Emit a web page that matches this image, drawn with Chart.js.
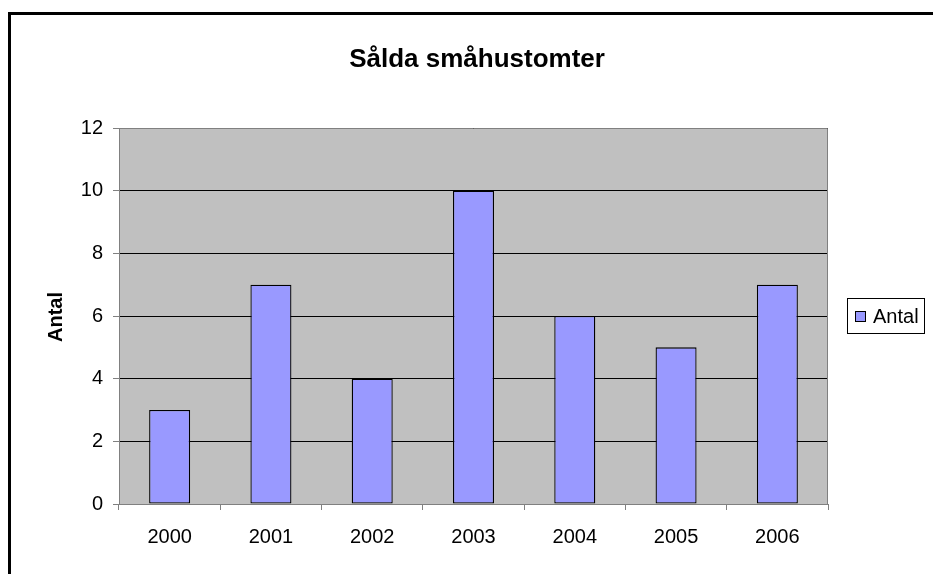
<!DOCTYPE html>
<html>
<head>
<meta charset="utf-8">
<script src="https://cdn.jsdelivr.net/npm/chart.js@4/dist/chart.umd.min.js"></script>
<style>
html,body{margin:0;padding:0;background:#fff;}
canvas{display:block;}
</style>
</head>
<body>
<canvas id="c" width="933" height="574"></canvas>
<script>
const categories = ['2000','2001','2002','2003','2004','2005','2006'];
const antal = [3, 7, 4, 10, 6, 5, 7];
const seriesName = 'Antal';
const chartTitle = 'Sålda småhustomter';
const yAxisTitle = 'Antal';
const yTicks = [0, 2, 4, 6, 8, 10, 12];

const FONT = '"Liberation Sans", Arial, sans-serif';

const decor = {
  id: 'decor',
  beforeDraw(chart) {
    const {ctx, chartArea: a} = chart;
    ctx.save();
    ctx.fillStyle = '#ffffff';
    ctx.fillRect(0, 0, chart.width, chart.height);
    ctx.fillStyle = '#C0C0C0';
    ctx.fillRect(a.left, a.top, a.right - a.left, a.bottom - a.top);
    ctx.restore();
  },
  afterDraw(chart) {
    const {ctx, chartArea: a} = chart;
    ctx.save();
    // plot border
    ctx.strokeStyle = '#808080';
    ctx.lineWidth = 1;
    ctx.beginPath();
    ctx.moveTo(a.left + 0.5, a.top + 0.5);
    ctx.lineTo(a.right - 0.5, a.top + 0.5);
    ctx.lineTo(a.right - 0.5, a.bottom);
    ctx.stroke();
    // outer border
    ctx.strokeStyle = '#000';
    ctx.lineWidth = 3;
    ctx.strokeRect(9.5, 13.5, 1000, 700);
    // title
    ctx.fillStyle = '#000';
    ctx.font = 'bold 26px ' + FONT;
    ctx.textAlign = 'center';
    ctx.textBaseline = 'alphabetic';
    ctx.fillText(chartTitle, 477, 67);
    // y axis title
    ctx.save();
    ctx.translate(56, 317);
    ctx.rotate(-Math.PI / 2);
    ctx.font = 'bold 20px ' + FONT;
    ctx.textAlign = 'center';
    ctx.textBaseline = 'middle';
    ctx.fillText(yAxisTitle, 0, 0);
    ctx.restore();
    // legend
    const ds = chart.data.datasets[0];
    ctx.fillStyle = '#fff';
    ctx.fillRect(847, 298, 77, 35);
    ctx.strokeStyle = '#000';
    ctx.lineWidth = 1;
    ctx.strokeRect(847.5, 298.5, 77, 35);
    ctx.fillStyle = ds.backgroundColor;
    ctx.fillRect(855.5, 311.5, 10, 10);
    ctx.strokeRect(855.5, 311.5, 10, 10);
    ctx.fillStyle = '#000';
    ctx.font = '20px ' + FONT;
    ctx.textAlign = 'left';
    ctx.textBaseline = 'middle';
    ctx.fillText(ds.label, 873, 317);
    ctx.restore();
  }
};

new Chart(document.getElementById('c'), {
  type: 'bar',
  data: {
    labels: categories,
    datasets: [{
      label: seriesName,
      data: antal,
      backgroundColor: '#9999FF',
      borderColor: '#000000',
      borderWidth: 1.3,
      borderSkipped: false,
      barPercentage: 0.405,
      categoryPercentage: 1.0
    }]
  },
  options: {
    responsive: false,
    animation: false,
    devicePixelRatio: 1,
    layout: {padding: {left: 0, top: 128, right: 105, bottom: 0}},
    plugins: {
      legend: {display: false},
      title: {display: false},
      tooltip: {enabled: false}
    },
    scales: {
      x: {
        offset: true,
        grid: {
          offset: true,
          drawOnChartArea: false,
          drawTicks: true,
          tickLength: 6,
          tickColor: '#808080',
          color: '#808080'
        },
        border: {display: true, color: '#808080', width: 1},
        ticks: {
          color: '#000',
          font: {family: FONT, size: 20},
          padding: 15,
          maxRotation: 0
        },
        afterFit(s) { s.height = 70; }
      },
      y: {
        min: 0,
        max: 12,
        afterBuildTicks(s) { s.ticks = yTicks.map(v => ({value: v})); },
        grid: {
          color: '#000000',
          lineWidth: 1,
          drawTicks: true,
          tickLength: 6,
          tickColor: '#808080'
        },
        border: {display: true, color: '#808080', width: 1},
        ticks: {
          color: '#000',
          font: {family: FONT, size: 20},
          padding: 10
        },
        afterFit(s) { s.width = 119; }
      }
    }
  },
  plugins: [decor]
});
</script>
</body>
</html>
